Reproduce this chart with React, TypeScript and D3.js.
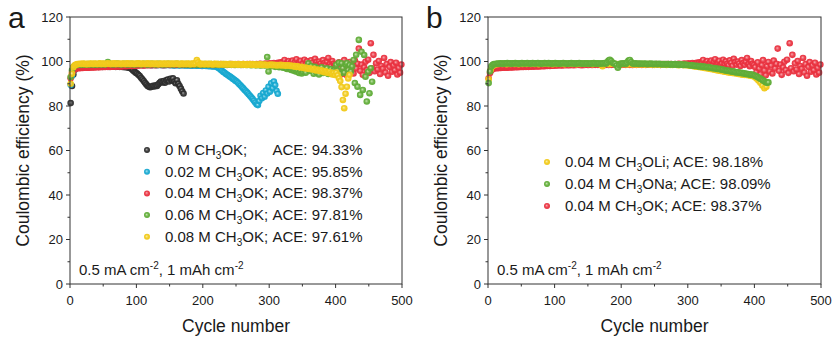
import React from 'react';
import * as d3 from 'd3';

// ---------- axis ticks ----------
const CYCLE_TICKS = [0, 100, 200, 300, 400, 500];
const CYCLE_MINOR = [50, 150, 250, 350, 450];
const CE_TICKS = [0, 20, 40, 60, 80, 100, 120];
const CE_MINOR = [10, 30, 50, 70, 90, 110];

// ---------- data (Coulombic efficiency %, cycles 1, 3, 5, ... unless step given) ----------
const ce0M = [
  81.3, 89.0, 94.2, 96.3, 97.0, 97.2,
  97.2, 97.4, 97.3, 97.5, 97.4, 97.6, 97.5, 97.4, 97.6, 97.7, 97.5, 97.6, 97.8, 97.6, 97.7, 97.5, 97.7, 97.8, 97.6, 97.7,
  97.9, 97.7, 97.8, 97.6, 97.8, 97.9, 97.7, 97.8, 97.6, 97.7, 97.8, 97.6, 97.7, 97.5, 97.6, 97.4, 97.5, 97.3, 97.2,
  97.0, 96.6, 96.0, 95.5, 95.0, 94.6, 94.0, 93.5, 92.7, 92.0, 91.2, 90.4, 89.7, 89.0, 88.6, 88.4, 88.7, 89.1, 88.8, 89.3,
  89.0, 89.8, 90.4, 91.0, 90.6, 91.2, 90.5, 91.5, 91.9, 91.0, 92.2, 91.5, 92.4, 91.0, 90.2, 91.6, 90.0, 89.0, 87.8, 86.6, 85.6,
];

const ce002M = [
  89.5, 93.5, 96.0, 97.2, 97.6,
  97.8, 97.9, 98.0, 97.9, 98.1, 98.0, 98.1, 98.2, 98.0, 98.1, 98.2, 98.1, 98.3, 98.2, 98.1,
  98.2, 98.3, 98.1, 98.2, 98.3, 98.2, 98.4, 98.3, 98.2, 98.3, 98.4, 98.3, 98.2, 98.3, 98.4,
  98.3, 98.4, 98.2, 98.3, 98.4, 98.3, 98.5, 98.4, 98.3, 98.4, 98.5, 98.4, 98.3, 98.4, 98.5,
  98.4, 98.3, 98.4, 98.5, 98.4, 98.3, 98.4, 98.5, 98.4, 98.5, 98.4, 98.3, 98.4, 98.5, 98.4,
  98.3, 98.4, 98.5, 98.4, 98.3, 98.4, 98.3, 98.4, 98.5, 98.4, 98.3, 98.4, 98.3, 98.2, 98.3,
  98.4, 98.3, 98.2, 98.3, 98.4, 98.3, 98.2, 98.3, 98.2, 98.3, 98.2, 98.1, 98.2, 98.3, 98.2,
  98.1, 98.2, 98.1, 98.2, 98.0, 98.1, 98.2, 98.0, 98.1, 97.9, 98.0, 97.9, 97.8, 97.9, 97.8,
  97.6, 97.2, 96.8, 96.3, 95.8, 95.3, 94.9, 94.4, 94.0, 93.6, 93.2, 92.8, 92.3, 91.9, 91.4, 91.0,
  90.4, 89.8, 89.2, 88.5, 87.9, 87.2, 86.6, 86.0, 85.3, 84.6, 83.9, 83.2, 82.4, 81.6, 80.8, 80.4,
  82.2, 84.6, 83.5, 85.8, 84.2, 87.0, 85.6, 88.6, 86.4, 90.2, 88.0, 91.0, 89.4, 86.8, 85.5,
];

const ce004K = [
  92.5, 94.8, 96.0, 96.6, 96.9,
  97.0, 97.1, 97.0, 97.2, 97.1, 97.2, 97.3, 97.2, 97.3, 97.2, 97.4, 97.3, 97.4, 97.3, 97.5,
  97.4, 97.5, 97.4, 97.6, 97.5, 97.6, 97.5, 97.7, 97.6, 97.7, 97.6, 97.8, 97.7, 97.8, 97.7,
  97.9, 97.8, 97.9, 97.8, 98.0, 97.9, 98.0, 97.9, 98.1, 98.0, 98.1, 98.0, 98.2, 98.1, 98.2,
  98.2, 98.3, 98.2, 98.4, 98.3, 98.2, 98.4, 98.3, 98.5, 98.3, 98.4,
  98.3, 98.5, 98.4, 98.3, 98.5, 98.4, 98.6, 98.4, 98.5, 98.3, 98.5,
  98.4, 98.6, 98.5, 98.4, 98.6, 98.5, 98.4, 98.6, 98.5, 98.7, 98.5,
  98.6, 98.4, 98.6, 98.5, 98.7, 98.5, 98.6, 98.4, 98.6, 98.5, 98.7,
  98.6, 98.5, 98.7, 98.6, 98.4, 98.6, 98.5, 98.7, 98.6, 98.5, 98.6,
  98.7, 98.5, 98.6, 98.4, 98.6, 98.7, 98.5, 98.6, 98.8, 98.6, 98.5,
  98.7, 98.6, 98.5, 98.7, 98.6, 98.8, 98.6, 98.5, 98.7, 98.6, 98.8,
  98.6, 98.7, 98.5, 98.8, 98.6, 98.7, 98.9, 98.6, 98.8, 98.7, 98.9,
  98.7, 98.6, 98.9, 98.7, 98.8, 99.0, 98.7, 98.9, 98.8, 99.1, 98.8,
  98.9, 99.2, 98.8, 99.0, 99.3, 98.9, 99.1, 99.4, 99.0, 99.6, 99.2,
  99.8, 100.7, 98.6, 99.4, 100.2, 98.9, 99.6, 100.4, 98.2, 99.9,
  101.0, 98.7, 99.5, 100.3, 98.4, 99.2, 100.8, 98.9, 100.1, 99.0,
  98.3, 100.5, 99.4, 98.1, 101.2, 99.7, 98.6, 100.0, 99.1, 98.0,
  100.6, 99.3, 98.5, 99.9, 101.6, 98.8, 97.9, 100.2, 99.0, 98.4,
  97.5, 95.2, 99.6, 96.8, 94.3, 98.4, 100.6, 96.0, 93.8, 97.9,
  99.8, 95.5, 98.2, 94.6, 100.4, 96.9, 99.0, 105.8, 95.8, 98.6,
  94.0, 97.4, 99.9, 96.2, 100.8, 94.9, 108.2, 97.0, 103.0, 95.6,
  99.2, 96.4, 100.2, 94.4, 98.0, 96.8, 101.6, 95.1, 98.8, 93.6,
  97.6, 99.7, 95.4, 98.3, 96.1, 99.4, 94.2, 97.2, 95.0, 98.6,
];

const ce006M = [
  93.0, 96.0, 97.5, 98.1,
  98.3, 98.5, 98.6, 98.5, 98.7, 98.6, 98.8, 98.7, 98.6, 98.8, 98.7, 98.9, 98.7, 98.8, 98.6, 98.8,
  98.7, 98.9, 98.8, 98.7, 98.9, 98.8, 98.7, 98.9, 99.8, 99.0, 98.8, 98.9, 98.7, 98.9, 98.8, 99.1,
  98.8, 98.9, 98.7, 98.8, 99.0, 98.8, 98.9, 98.7, 98.9, 98.8, 99.0, 98.8, 98.7, 98.9, 98.8, 99.0,
  98.9, 98.7, 98.8, 99.0, 98.9, 98.8, 98.7, 98.9, 98.8, 99.0, 98.8, 98.9, 98.7, 98.8, 99.0, 98.8,
  98.9, 98.7, 98.8, 98.9, 98.7, 99.0, 98.8, 98.9, 98.8, 98.7, 98.9, 98.8, 99.0, 98.8, 98.7, 98.9,
  98.8, 98.7, 98.9, 98.8, 98.7, 98.9, 98.6, 98.8, 98.7, 98.9, 98.8, 98.6, 98.8, 98.7, 98.9, 98.7,
  98.6, 98.8, 98.7, 98.6, 98.8, 98.7, 98.9, 98.6, 98.8, 98.7, 98.6, 98.8, 98.5, 98.7, 98.6, 98.8,
  98.7, 98.5, 98.7, 98.6, 98.8, 98.5, 98.7, 98.6, 98.4, 98.7, 98.5, 98.6, 98.4, 98.6, 98.5, 98.7,
  98.5, 98.4, 98.6, 98.5, 98.3, 98.6, 98.4, 98.5, 98.3, 98.5, 98.4, 98.2, 98.5, 98.3, 98.4, 98.2,
  102.0, 95.5,
  98.3, 97.9, 98.4, 98.0, 97.6, 98.2, 97.8, 97.4, 98.0, 97.5,
  97.2, 97.8, 97.0, 96.6, 97.3, 96.8, 96.2, 96.9, 95.8, 96.4,
  95.4, 96.0, 94.8, 95.6, 94.6, 95.3, 96.4, 95.0, 97.2, 99.2,
  95.8, 98.0, 96.6, 94.5, 97.6, 95.2, 96.8, 94.2, 95.9, 97.4,
  94.8, 96.2, 95.4, 97.0, 94.4, 95.8, 96.6, 94.9, 96.0, 95.2,
  98.5, 96.0, 99.4, 94.5, 99.2, 97.0, 95.0, 98.6, 99.3, 96.2,
  98.4, 95.5, 97.8, 100.7, 90.3, 103.0, 88.7, 109.7, 85.0, 104.4,
  87.2, 102.9, 93.2, 82.0, 95.4, 85.7, 97.0, 90.9,
];

const ce008M = [
  90.0, 94.5, 97.4, 98.3, 98.6,
  98.8, 98.9, 99.0, 98.9, 99.1, 98.9, 99.0, 98.8, 99.0, 98.9, 99.1, 99.0, 98.9, 99.1, 99.0, 98.9,
  99.0, 99.2, 98.9, 99.0, 99.1, 98.9, 99.0, 99.2, 99.0, 98.9, 99.1, 99.0, 99.2, 98.9, 99.0, 99.1,
  99.0, 98.9, 99.1, 99.0, 98.9, 99.1, 99.2, 99.0, 98.9, 99.1, 99.0, 98.9, 99.1, 99.0, 99.2, 99.0,
  98.9, 99.1, 99.0, 98.9, 99.0, 99.2, 99.0, 98.9, 99.1, 99.0, 98.9, 99.1, 99.0, 98.8, 99.0, 99.1,
  98.9, 99.0, 99.1, 98.9, 99.0, 99.1, 98.9, 99.0, 99.1, 98.9, 99.0, 99.1, 99.0, 98.8, 99.0, 99.1,
  98.9, 99.0, 98.9, 99.1, 99.0, 98.8, 99.0, 99.1, 98.9, 99.4, 100.6, 99.6, 98.9, 98.8, 99.0, 98.9,
  98.8, 99.0, 98.9, 98.8, 99.0, 98.9, 98.7, 98.9, 99.0, 98.8, 98.9, 98.7, 98.9, 98.8, 98.7, 98.9,
  98.8, 98.7, 98.9, 98.8, 98.6, 98.8, 98.7, 98.9, 98.7, 98.6, 98.8, 98.7, 98.6, 98.8, 98.7, 98.5,
  98.7, 98.6, 98.8, 98.6, 98.5, 98.7, 98.6, 98.4, 98.6, 98.5, 98.7, 98.5, 98.4, 98.6, 98.5, 98.3,
  98.5, 98.4, 98.6, 98.3, 98.5, 98.4, 98.2, 98.4, 98.3, 98.5, 98.2, 98.4, 98.3, 98.1, 98.3, 98.2,
  98.2, 98.0, 98.1, 97.8, 97.9, 97.6, 97.8, 97.5, 97.3, 97.6, 97.2, 97.0, 97.3, 96.9, 96.7, 97.0,
  96.6, 96.4, 96.7, 96.2, 96.0, 96.4, 95.9, 95.6, 96.0, 95.5, 95.2, 95.7, 95.1, 94.8, 95.3, 94.6,
  94.2, 94.8, 93.9,
  95.0, 93.8, 92.5, 91.2, 88.5, 82.7, 79.0, 85.5, 88.6, 92.4, 94.0,
];

// panel b, lithium salt: sampled every 3 cycles
const ce004Li = [
  92.0, 96.2, 98.0, 98.5,
  98.8, 98.9, 99.0, 98.9, 99.0, 98.8, 99.0, 98.9, 99.1, 98.9, 99.0, 98.8, 99.0, 98.9, 99.0, 98.9,
  99.0, 98.9, 99.1, 98.9, 99.0, 98.8, 99.0, 98.9, 99.0, 99.1, 98.9, 99.0, 98.8, 99.0, 98.9, 99.0,
  98.9, 99.0, 98.8, 99.0, 98.9, 99.1, 98.9, 99.0, 98.8, 99.0, 98.9, 99.0, 98.9, 99.1, 98.9, 99.0,
  98.8, 99.0, 98.9, 99.0, 98.7, 97.9, 98.9, 99.0, 98.8, 98.9, 99.0, 98.8, 98.9, 98.7, 98.9, 98.8,
  98.9, 98.7, 98.8, 98.9, 98.7, 98.8, 98.6, 98.8, 98.7, 98.8, 98.6, 98.7, 98.8, 98.6, 98.7, 98.5,
  98.7, 98.6, 98.5, 98.7, 98.6, 98.4, 98.6, 98.5, 98.4, 98.6, 98.5, 98.3, 98.5, 98.4, 98.3, 98.4,
  98.2, 98.1, 98.0, 97.8, 97.7, 97.6, 97.4, 97.3, 97.1, 97.0, 96.8, 96.6, 96.5, 96.3, 96.1, 95.9,
  95.8, 95.6, 95.4, 95.3, 95.1, 95.0, 94.8, 94.7, 94.6, 94.4, 94.3, 94.1, 94.0, 93.9, 93.8, 93.6, 93.5,
  93.2, 92.4, 91.5, 90.4, 89.2, 88.0, 88.6,
];

const ce004Na = [
  90.3, 95.5, 97.8, 98.5, 98.8,
  98.9, 99.0, 99.1, 99.0, 99.2, 99.1, 99.0, 99.2, 99.1, 99.3, 99.1, 99.2, 99.0, 99.2, 99.1,
  99.3, 99.1, 99.2, 99.0, 99.2, 99.3, 99.1, 99.2, 99.1, 99.3, 99.2, 99.0, 99.2, 99.3, 99.1,
  99.2, 99.1, 99.3, 99.2, 99.0, 99.2, 99.1, 99.3, 99.2, 99.1, 99.3, 99.2, 99.0, 99.2, 99.1,
  99.3, 99.1, 99.2, 99.0, 99.2, 99.1, 99.3, 99.2, 99.1, 99.0, 99.2, 99.1, 99.3, 99.1, 99.2,
  99.0, 99.2, 99.1, 99.3, 99.2, 99.0, 99.1, 99.2, 99.0, 99.2, 99.1, 99.0, 99.2, 99.1, 99.3,
  99.1, 99.0, 99.2, 99.1, 99.0, 99.2, 99.1, 99.3, 99.0, 99.6, 100.4, 100.8, 100.2, 99.4, 99.1,
  99.0, 98.2, 97.2, 98.4, 99.1, 99.0, 99.2, 99.1, 98.9, 99.6, 100.4, 100.7, 99.8, 99.1, 99.0,
  99.2, 99.0, 99.1, 98.9, 99.1, 99.0, 98.9, 99.1, 99.0, 98.8, 99.0, 98.9, 99.1, 98.9, 98.8,
  99.0, 98.9, 98.8, 99.0, 98.9, 98.7, 98.9, 98.8, 98.7, 98.9, 98.8, 98.6, 98.8, 98.7, 98.6,
  98.8, 98.6, 98.7, 98.5, 98.7, 98.6, 98.4, 98.6, 98.5, 98.4,
  98.4, 98.3, 98.2, 98.3, 98.1, 98.0, 98.1, 97.9, 97.8, 97.9,
  97.7, 97.6, 97.7, 97.5, 97.4, 97.5, 97.3, 97.2, 97.0, 97.1,
  96.9, 96.8, 96.6, 96.7, 96.5, 96.3, 96.4, 96.1, 96.0, 95.9,
  95.7, 95.8, 95.5, 95.4, 95.6, 95.2, 95.1, 95.3, 95.0, 94.8,
  94.9, 94.6, 94.7, 94.4, 94.5, 94.2, 94.3, 94.0, 94.1, 93.8,
  93.6, 93.3, 93.0, 92.6, 92.3, 91.9, 91.5, 91.1, 90.7, 90.4, 90.6,
];

// ---------- legends ----------
const legendAConc = ['0 M', '0.02 M', '0.04 M', '0.06 M', '0.08 M'];
const legendAAce = ['94.33%', '95.85%', '98.37%', '97.81%', '97.61%'];
const legendBAnion = ['OLi', 'ONa', 'OK'];
const legendBAce = ['98.18%', '98.09%', '98.37%'];

// ---------- styling ----------
const COLORS: Record<string, [string, string]> = {
  black: ['#a8a8a8', '#2e2e2e'],
  cyan: ['#a6e3f2', '#17a8d0'],
  red: ['#f9aab1', '#e9313f'],
  green: ['#c6e5ae', '#5fac37'],
  yellow: ['#fcef9f', '#f1c918'],
};

const FONT = '"Liberation Sans", Arial, Helvetica, sans-serif';
const TOP = 17;
const BOTTOM = 284;
const TEXT = '#1a1a1a';

type Layer = { color: string; values: number[]; step: number };

const layersA: Layer[] = [
  { color: 'black', values: ce0M, step: 2 },
  { color: 'cyan', values: ce002M, step: 2 },
  { color: 'red', values: ce004K, step: 2 },
  { color: 'green', values: ce006M, step: 2 },
  { color: 'yellow', values: ce008M, step: 2 },
];
const layersB: Layer[] = [
  { color: 'red', values: ce004K, step: 2 },
  { color: 'yellow', values: ce004Li, step: 3 },
  { color: 'green', values: ce004Na, step: 2 },
];
const legendAColors = ['black', 'cyan', 'red', 'green', 'yellow'];
const legendBColors = ['yellow', 'green', 'red'];

function Panel({ left, right, letter, layers, children }: any) {
  const x = d3.scaleLinear().domain([0, 500]).range([left, right]);
  const y = d3.scaleLinear().domain([0, 120]).range([BOTTOM, TOP]);
  return (
    <g>
      {layers.map((L: Layer, li: number) => (
        <g key={li}>
          {L.values.map((v, i) => (
            <circle key={i} cx={x(1 + i * L.step)} cy={y(v)} r={3.3} fill={`url(#grad-${L.color})`} />
          ))}
        </g>
      ))}
      <rect x={left} y={TOP} width={right - left} height={BOTTOM - TOP} fill="none" stroke="#333" strokeWidth={1} />
      {CE_TICKS.map((t) => (
        <g key={'y' + t}>
          <line x1={left - 4} x2={left} y1={y(t)} y2={y(t)} stroke="#333" />
          <text x={left - 7} y={y(t)} dy="0.35em" textAnchor="end" fontSize={13} fill={TEXT}>{t}</text>
        </g>
      ))}
      {CE_MINOR.map((t) => (
        <line key={'ym' + t} x1={left - 2.5} x2={left} y1={y(t)} y2={y(t)} stroke="#333" />
      ))}
      {CYCLE_TICKS.map((t) => (
        <g key={'x' + t}>
          <line x1={x(t)} x2={x(t)} y1={BOTTOM} y2={BOTTOM + 4} stroke="#333" />
          <text x={x(t)} y={305} textAnchor="middle" fontSize={13} fill={TEXT}>{t}</text>
        </g>
      ))}
      {CYCLE_MINOR.map((t) => (
        <line key={'xm' + t} x1={x(t)} x2={x(t)} y1={BOTTOM} y2={BOTTOM + 2.5} stroke="#333" />
      ))}
      <text x={(left + right) / 2} y={332} textAnchor="middle" fontSize={17.5} fill={TEXT}>Cycle number</text>
      <text transform={`translate(${left - 41},${(TOP + BOTTOM) / 2}) rotate(-90)`} textAnchor="middle" fontSize={17.5} fill={TEXT}>
        Coulombic efficiency (%)
      </text>
      <text x={left - 62} y={28} fontSize={30} fill={TEXT}>{letter}</text>
      <text x={left + 9} y={275} fontSize={15} fill={TEXT}>
        0.5 mA cm<tspan fontSize={10} dy={-6}>-2</tspan>
        <tspan dy={6}>{', 1 mAh cm'}</tspan>
        <tspan fontSize={10} dy={-6}>-2</tspan>
      </text>
      {children}
    </g>
  );
}

export default function App() {
  return (
    <svg width={834} height={343} style={{ position: 'absolute', left: 0, top: 0, background: '#fff' }} fontFamily={FONT}>
      <defs>
        {Object.entries(COLORS).map(([k, [c0, c1]]) => (
          <radialGradient key={k} id={`grad-${k}`} cx="50%" cy="50%" r="50%" fx="42%" fy="40%">
            <stop offset="0%" stopColor={c0} />
            <stop offset="55%" stopColor={c1} stopOpacity={0.9} />
            <stop offset="100%" stopColor={c1} />
          </radialGradient>
        ))}
      </defs>
      <rect x={0} y={0} width={834} height={343} fill="#fff" />
      <Panel left={70} right={402} letter="a" layers={layersA}>
        {legendAConc.map((c, i) => {
          const cy = 150 + i * 21.7;
          return (
            <g key={i}>
              <circle cx={147} cy={cy} r={3} fill={`url(#grad-${legendAColors[i]})`} />
              <text x={165} y={cy + 5} fontSize={15} fill={TEXT}>
                {`${c} CH`}
                <tspan fontSize={10} dy={4}>3</tspan>
                <tspan dy={-4}>{'OK;'}</tspan>
                <tspan x={272.5}>{`ACE: ${legendAAce[i]}`}</tspan>
              </text>
            </g>
          );
        })}
      </Panel>
      <Panel left={488} right={821} letter="b" layers={layersB}>
        {legendBAnion.map((a, i) => {
          const cy = 162 + i * 22;
          return (
            <g key={i}>
              <circle cx={547} cy={cy} r={3} fill={`url(#grad-${legendBColors[i]})`} />
              <text x={565} y={cy + 5} fontSize={15} fill={TEXT}>
                {'0.04 M CH'}
                <tspan fontSize={10} dy={4}>3</tspan>
                <tspan dy={-4}>{`${a}; ACE: ${legendBAce[i]}`}</tspan>
              </text>
            </g>
          );
        })}
      </Panel>
    </svg>
  );
}
